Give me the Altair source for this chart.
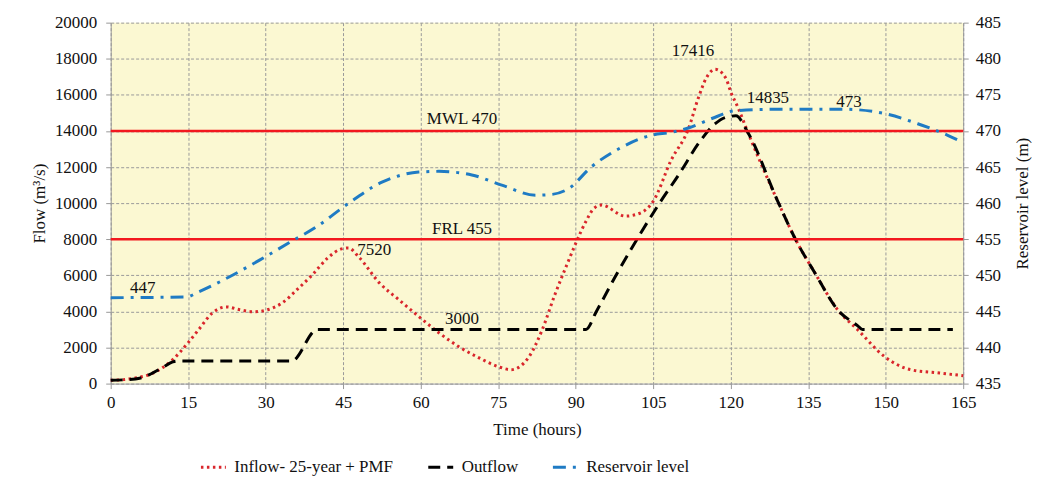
import altair as alt
import pandas as pd

# ---- data ----
series_names = ["Inflow- 25-year + PMF", "Outflow", "Reservoir level"]
series_colors = ["#D9262C", "#000000", "#1F7BC4"]
series_dash = [[2.5, 3.5], [12, 7], [13, 7, 3, 7]]

inflow_t = [0, 2.5, 5, 7.5, 10, 12, 15, 17, 19.7, 22.4, 25, 27.8, 30.3, 33.2, 36, 39, 42,
            44.5, 46, 48, 52, 55.8, 59.7, 63.5, 67.4, 71.2, 75, 77.5, 81, 83.4, 86, 88.6,
            90.2, 92, 93.5, 95, 99.6, 102.5, 105, 108.5, 111.8, 113.7, 115.3, 117, 119, 120.1,
            121.4, 123.4, 129, 132.6, 136.3, 140.7, 144.6, 149.8, 154.8, 160, 165]
inflow_q = [180, 220, 320, 500, 880, 1330, 2270, 2980, 3920, 4250, 4090, 3980, 4090, 4470,
            5190, 6020, 6960, 7450, 7520, 7020, 5580, 4640, 3700, 2820, 2040, 1440, 940, 770,
            1500, 2900, 4950, 6800, 7900, 9000, 9700, 9890, 9280, 9450, 10100, 12400, 14100,
            15800, 16950, 17416, 16950, 16100, 15300, 13870, 10170, 7960, 6130, 4090, 2980,
            1490, 770, 600, 440]

outflow_t = [0, 3, 5.6, 7.5, 10, 12, 12.8, 35, 40, 92, 94, 98, 102.5, 106, 110, 114, 117,
             119, 121, 123.4, 129, 132.6, 136.3, 140.7, 144.6, 145.5, 163]
outflow_q = [180, 220, 300, 500, 880, 1200, 1250, 1250, 3000, 3000, 4000, 6100, 8300, 9900,
             11600, 13400, 14400, 14750, 14835, 13870, 10170, 7960, 6130, 4090, 3200, 3000,
             3000]

level_t = [0, 14.6, 17, 23, 28.8, 34.5, 40, 45.5, 52.5, 59.6, 63.5, 69.9, 75.7, 82.2, 85.3,
           88.6, 93, 98.8, 104.6, 108.5, 111.8, 117, 120.8, 129.2, 142, 149.8, 156.2, 162, 165]
level_m = [446.9, 447, 447.7, 449.8, 452.1, 454.5, 456.8, 459.7, 462.9, 464.3, 464.4, 463.9,
           462.5, 461.1, 461.2, 462, 465, 467.7, 469.4, 469.8, 470.4, 471.9, 472.8, 473, 473,
           472.4, 471, 469.4, 468.4]

ref_flow = [14000, 8000]

label_text = ["MWL 470", "FRL 455", "447", "7520", "3000", "17416", "14835", "473"]
label_t = [68, 68, 6.2, 51, 68, 112.7, 127.2, 142.9]
label_q = [14640, 8560, 5300, 7400, 3590, 18450, 15800, 15580]

x_ticks = list(range(0, 166, 15))
flow_ticks = list(range(0, 20001, 2000))
level_ticks = list(range(435, 486, 5))

FONT = "Liberation Serif"
FS = 17

flow_df = pd.DataFrame(
    {"t": inflow_t + outflow_t,
     "flow": inflow_q + outflow_q,
     "series": [series_names[0]] * len(inflow_t) + [series_names[1]] * len(outflow_t)}
)
level_df = pd.DataFrame({"t": level_t, "level": level_m, "series": series_names[2]})
ref_df = pd.DataFrame({"flow": ref_flow})
lab_df = pd.DataFrame({"t": label_t, "flow": label_q, "text": label_text})

x_axis = alt.Axis(values=x_ticks, title="Time (hours)", grid=True,
                  labelOverlap=False, labelFlush=False, format="d",
                  titleX=427.5, titleY=46, titleBaseline="middle")
x_scale = alt.Scale(domain=[0, 165], nice=False, zero=False)

legend = alt.Legend(
    title=None, orient="none", legendX=89, legendY=432, direction="horizontal",
    symbolType="stroke", symbolSize=625, symbolStrokeWidth=3,
    labelFont=FONT, labelFontSize=FS, labelColor="#111", labelOffset=7,
    columnPadding=28,
)
color_enc = alt.Color("series:N", scale=alt.Scale(domain=series_names, range=series_colors),
                      legend=legend)
dash_enc = alt.StrokeDash("series:N", scale=alt.Scale(domain=series_names, range=series_dash),
                          legend=legend)

flow_scale = alt.Scale(domain=[0, 20000], nice=False)
flow_axis = alt.Axis(values=flow_ticks, title="Flow (m³/s)", grid=True, orient="left",
                     format="d", labelOverlap=False, labelFlush=False,
                     titleAngle=270, titleX=-71, titleY=181,
                     titleAlign="center", titleBaseline="middle")

flow_lines = alt.Chart(flow_df).mark_line(strokeWidth=3, interpolate="monotone").encode(
    x=alt.X("t:Q", scale=x_scale, axis=x_axis),
    y=alt.Y("flow:Q", scale=flow_scale, axis=flow_axis),
    color=color_enc,
    strokeDash=dash_enc,
    order="t:Q",
)

rules = alt.Chart(ref_df).mark_rule(color="#F2181E", strokeWidth=2.5).encode(
    y=alt.Y("flow:Q", scale=flow_scale, axis=flow_axis)
)

labels = alt.Chart(lab_df).mark_text(font=FONT, fontSize=FS, color="#111",
                                     align="center", baseline="middle").encode(
    x=alt.X("t:Q", scale=x_scale, axis=x_axis),
    y=alt.Y("flow:Q", scale=flow_scale, axis=flow_axis),
    text="text:N",
)

flow_group = alt.layer(flow_lines, rules, labels)

level_line = alt.Chart(level_df).mark_line(strokeWidth=3, interpolate="monotone").encode(
    x=alt.X("t:Q", scale=x_scale, axis=x_axis),
    y=alt.Y("level:Q", scale=alt.Scale(domain=[435, 485], nice=False, zero=False),
            axis=alt.Axis(values=level_ticks, title="Reservoir level (m)", grid=False,
                          orient="right", format="d", labelOverlap=False, labelFlush=False,
                          titleAngle=270, titleX=59, titleY=181,
                          titleAlign="center", titleBaseline="middle")),
    color=color_enc,
    strokeDash=dash_enc,
)

chart = alt.layer(flow_group, level_line).resolve_scale(y="independent").properties(
    width=855, height=362,
    autosize=alt.AutoSizeParams(type="none"),
    padding={"left": 103, "top": 14, "right": 70, "bottom": 100},
    background="white",
).configure_view(
    fill="#FBF8D2", stroke=None
).configure_axis(
    labelFont=FONT, labelFontSize=FS, labelColor="#111",
    titleFont=FONT, titleFontSize=FS, titleColor="#111", titleFontWeight="normal",
    domainColor="#999", tickColor="#999", tickSize=5,
    gridColor="#9a9a9a", gridDash=[3, 2], gridWidth=1,
    labelPadding=6,
).configure_axisLeft(
    labelPadding=9
).configure_axisRight(
    labelPadding=7
)

chart.save("out.html", embed_options={"renderer": "svg", "actions": False})
